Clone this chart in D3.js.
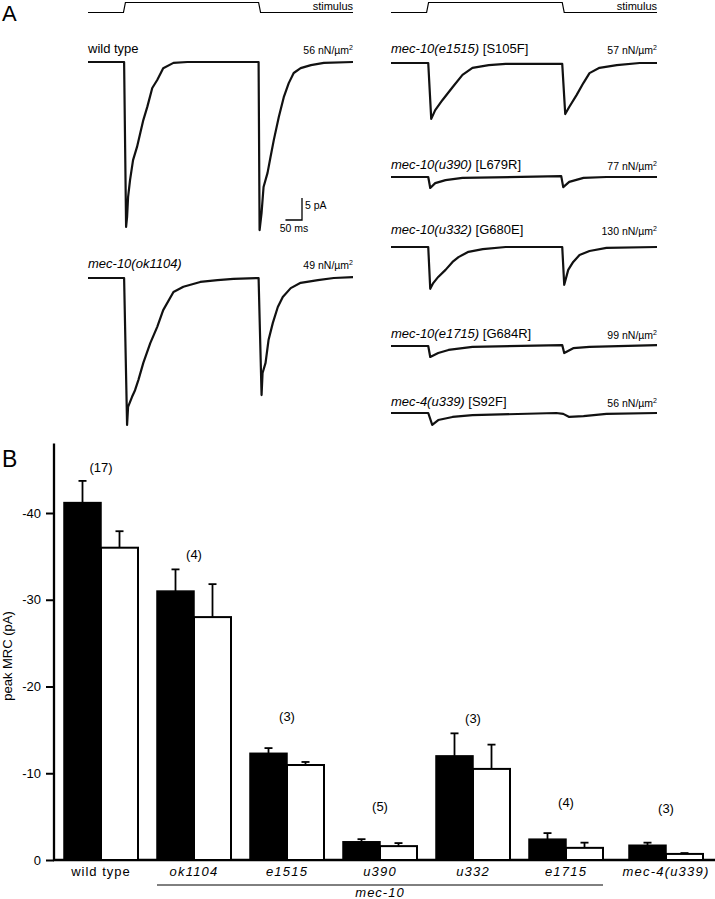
<!DOCTYPE html>
<html><head><meta charset="utf-8">
<script src="https://cdn.jsdelivr.net/npm/d3@7"></script>
<style>
body{margin:0;background:#fff}
svg{display:block}
text{font-family:"Liberation Sans",Arial,Helvetica,sans-serif;fill:#000}
</style>
</head><body>
<svg id="chart" width="715" height="899"></svg>
<script>
// ---------------- DATA ----------------
// stimulus protocol (time in ms, level 0/1)
const stimTime  = [0, 107, 113, 515, 521, 800];
const stimLevel = [0, 0, 1, 1, 0, 0];

// current traces: [time ms, current pA]
const traceWildType = [[0,0],[109,0],[115,-37.5],[118,-35.2],[121,-30.7],[127,-26.8],[136,-22.3],[148,-19.3],[158,-16.1],[167,-13.2],[179,-10.2],[194,-5.9],[209,-4.1],[227,-1.4],[258,-0.2],[300,0],[515,0],[518,-38.2],[524,-34.3],[530,-28.4],[542,-25.2],[551,-21.6],[561,-17.7],[576,-12.5],[591,-8.0],[606,-4.8],[621,-2.5],[642,-1.4],[673,-0.7],[712,-0.2],[800,0]];
const traceOk1104 = [[0,0],[109,0],[118,-33.4],[121,-29.3],[133,-27.0],[142,-25.5],[152,-23.2],[167,-19.3],[188,-14.8],[209,-11.1],[227,-7.3],[258,-3.2],[288,-2.0],[339,-0.9],[391,-0.5],[439,-0.2],[515,0],[524,-26.6],[527,-21.6],[536,-19.3],[545,-14.1],[558,-10.2],[573,-6.6],[588,-4.3],[612,-2.3],[642,-1.1],[694,-0.5],[742,0],[800,0.2]];
const traceE1515 = [[0,0],[112,0],[121,-12.7],[133,-10.7],[155,-8.4],[185,-5.5],[215,-2.7],[245,-1.1],[294,-0.5],[345,-0.2],[515,-0.2],[524,-11.6],[536,-10.0],[558,-7.3],[579,-4.5],[597,-2.3],[627,-1.1],[679,-0.5],[748,0],[800,0]];
const traceU390 = [[0,0],[112,0],[118,-2.5],[133,-1.4],[164,-0.7],[215,-0.2],[512,0.2],[518,-2.3],[536,-1.1],[579,-0.2],[648,0],[800,0]];
const traceU332 = [[0,0],[112,0],[118,-9.5],[127,-8.2],[142,-6.8],[164,-5.2],[185,-3.4],[203,-2.3],[233,-1.1],[276,-0.5],[345,0],[515,0],[521,-8.6],[533,-5.2],[548,-3.4],[567,-1.8],[597,-0.9],[648,-0.2],[800,0]];
const traceE1715 = [[0,0],[112,0],[118,-2.5],[142,-1.6],[173,-0.9],[245,-0.2],[515,0.2],[521,-1.6],[548,-0.5],[597,-0.2],[800,0.2]];
const traceU339 = [[0,0],[112,0],[124,-2.7],[142,-1.6],[185,-0.9],[245,-0.5],[497,0],[518,-0.2],[536,-0.9],[579,-0.7],[648,-0.2],[800,0]];

const traceGenotype = ["wild type","mec-10(ok1104)","mec-10(e1515)","mec-10(u390)","mec-10(u332)","mec-10(e1715)","mec-4(u339)"];
const traceMutation = ["","","[S105F]","[L679R]","[G680E]","[G684R]","[S92F]"];
const traceForce    = [56, 49, 57, 77, 130, 99, 56];
const traceData     = [traceWildType, traceOk1104, traceE1515, traceU390, traceU332, traceE1715, traceU339];

// scale bar values
const scaleBarPA = 5;
const scaleBarMS = 50;

// bar chart
const groups    = ["wild type","ok1104","e1515","u390","u332","e1715","mec-4(u339)"];
const peakBlack = [-41.2, -31.0, -12.3, -2.1, -12.0, -2.4, -1.7];
const errBlack  = [2.5, 2.5, 0.6, 0.3, 2.6, 0.7, 0.3];
const peakWhite = [-36.0, -28.0, -10.95, -1.6, -10.5, -1.4, -0.7];
const errWhite  = [1.9, 3.8, 0.35, 0.35, 2.8, 0.6, 0.1];
const nCells    = ["(17)","(4)","(3)","(5)","(3)","(4)","(3)"];
const nLabelAt  = [-45.2, -35.2, -16.5, -6.2, -16.3, -6.6, -5.9];
const yTicks    = [0, -10, -20, -30, -40];

// ---------------- LAYOUT ----------------
const svg = d3.select("#chart");
const FONT = 13;
// panel A layout: side (0 left / 1 right), trace baseline y, label baseline y
const traceLayout = [
  {side:0, base:62,  labelY:53},
  {side:0, base:278, labelY:268},
  {side:1, base:63,  labelY:53},
  {side:1, base:177, labelY:169},
  {side:1, base:247, labelY:234},
  {side:1, base:346, labelY:338},
  {side:1, base:413, labelY:406}
];
const xA = [
  d3.scaleLinear().domain([0,800]).range([88, 353]),
  d3.scaleLinear().domain([0,800]).range([391, 657])
];
const pxPerPA = 4.4;
const yStim = d3.scaleLinear().domain([0,1]).range([12.5, 2.5]);

// panel letters
svg.append("text").attr("x",2).attr("y",21).attr("font-size",22).text("A");
svg.append("text").attr("x",2).attr("y",467).attr("font-size",23).text("B");

// stimulus lines
[0,1].forEach(s=>{
  const line = d3.line().x(d=>xA[s](d[0])).y(d=>yStim(d[1]));
  svg.append("path").datum(stimTime.map((t,i)=>[t,stimLevel[i]]))
    .attr("d",line).attr("fill","none").attr("stroke","#000").attr("stroke-width",1.2);
  svg.append("text").attr("x",xA[s].range()[1]).attr("y",9.5).attr("text-anchor","end")
    .attr("font-size",11).text("stimulus");
});

// traces
traceData.forEach((data,i)=>{
  const L = traceLayout[i];
  const x = xA[L.side];
  const y = d3.scaleLinear().domain([0,-10]).range([L.base, L.base + 10*pxPerPA]);
  const line = d3.line().x(d=>x(d[0])).y(d=>y(d[1]));
  svg.append("path").datum(data).attr("d",line).attr("fill","none")
    .attr("stroke","#111").attr("stroke-width",2.2).attr("stroke-linejoin","round");
  // label
  const t = svg.append("text").attr("x",x.range()[0]).attr("y",L.labelY).attr("font-size",FONT);
  t.append("tspan").attr("font-style", i===0 ? "normal" : "italic").text(traceGenotype[i]);
  if (traceMutation[i]) t.append("tspan").text(" " + traceMutation[i]);
  // force
  const f = svg.append("text").attr("x",x.range()[1]).attr("y",L.labelY+1).attr("text-anchor","end").attr("font-size",10.5);
  f.append("tspan").text(traceForce[i] + " nN/µm");
  f.append("tspan").attr("font-size",7).attr("dy",-4).text("2");
});

// scale bar (uses wild type panel scales)
{
  const x = xA[0];
  const xEnd = 302, yBot = 220;
  const w = x(scaleBarMS) - x(0);
  const h = scaleBarPA * pxPerPA;
  svg.append("path").attr("d",`M${xEnd-w},${yBot}H${xEnd}V${yBot-h}`)
    .attr("fill","none").attr("stroke","#000").attr("stroke-width",1.3);
  svg.append("text").attr("x",xEnd+3).attr("y",yBot-11).attr("font-size",10.5).text(scaleBarPA+" pA");
  svg.append("text").attr("x",xEnd-8).attr("y",yBot+12).attr("text-anchor","middle").attr("font-size",10.5).text(scaleBarMS+" ms");
}

// ---------------- PANEL B ----------------
const yB = d3.scaleLinear().domain([0,-48]).range([860, 443.6]);
const step = 93, bandW = 74, x0B = 64, lastGap = 7;
const xB = d3.scaleBand().domain(groups)
  .range([x0B, x0B + step*(groups.length - (step-bandW)/step)])
  .paddingInner((step-bandW)/step).paddingOuter(0);
const gx = (g,i) => xB(g) + (i===groups.length-1 ? lastGap : 0);
const barW = xB.bandwidth()/2;

// axes
const yAxis = d3.axisLeft(yB).tickValues(yTicks).tickSize(8).tickPadding(5).tickFormat(d=>String(d));
const ga = svg.append("g").attr("transform","translate(54,0)").call(yAxis);
ga.select(".domain").remove();
ga.selectAll(".tick line").attr("stroke","#000").attr("stroke-width",2);
ga.selectAll(".tick text").attr("font-size",FONT).attr("font-family","Liberation Sans, Arial, sans-serif").attr("fill","#000");
svg.append("line").attr("x1",54).attr("x2",54).attr("y1",yB(-48)).attr("y2",yB(0)+1)
  .attr("stroke","#000").attr("stroke-width",2.3);
svg.append("line").attr("x1",53).attr("x2",715).attr("y1",yB(0)).attr("y2",yB(0))
  .attr("stroke","#000").attr("stroke-width",2.3);

svg.append("text").attr("transform",`translate(12,${656}) rotate(-90)`).attr("text-anchor","middle")
  .attr("font-size",FONT).text("peak MRC (pA)");

// bars
groups.forEach((g,i)=>{
  const bx = gx(g,i);
  // error bars
  [[peakBlack[i],errBlack[i],bx],[peakWhite[i],errWhite[i],bx+barW]].forEach(([v,e,x])=>{
    const cx = x + barW/2;
    svg.append("line").attr("x1",cx).attr("x2",cx).attr("y1",yB(v)).attr("y2",yB(v-e))
      .attr("stroke","#000").attr("stroke-width",1.8);
    svg.append("line").attr("x1",cx-4).attr("x2",cx+4).attr("y1",yB(v-e)).attr("y2",yB(v-e))
      .attr("stroke","#000").attr("stroke-width",1.8);
  });
  svg.append("rect").attr("x",bx+barW).attr("y",yB(peakWhite[i])).attr("width",barW)
    .attr("height",yB(0)-yB(peakWhite[i])).attr("fill","#fff").attr("stroke","#000").attr("stroke-width",2);
  svg.append("rect").attr("x",bx).attr("y",yB(peakBlack[i])).attr("width",barW)
    .attr("height",yB(0)-yB(peakBlack[i])).attr("fill","#000").attr("stroke","#000").attr("stroke-width",1.5);
  // n labels
  svg.append("text").attr("x",bx+barW).attr("y",yB(nLabelAt[i])+4.5).attr("text-anchor","middle")
    .attr("font-size",FONT).text(nCells[i]);
  // x labels
  svg.append("text").attr("x",bx+barW).attr("y",876).attr("text-anchor","middle")
    .attr("font-size",FONT).attr("letter-spacing", i===0 ? 1 : 1.2)
    .attr("font-style", i===0 ? "normal" : "italic").text(g);
});
// mec-10 bracket
{
  const a = gx(groups[1],1), b = gx(groups[5],5) + xB.bandwidth();
  svg.append("line").attr("x1",a).attr("x2",b).attr("y1",885).attr("y2",885).attr("stroke","#000").attr("stroke-width",1);
  svg.append("text").attr("x",(a+b)/2).attr("y",897).attr("text-anchor","middle").attr("font-size",FONT)
    .attr("font-style","italic").attr("letter-spacing",1).text("mec-10");
}
</script>
</body></html>
